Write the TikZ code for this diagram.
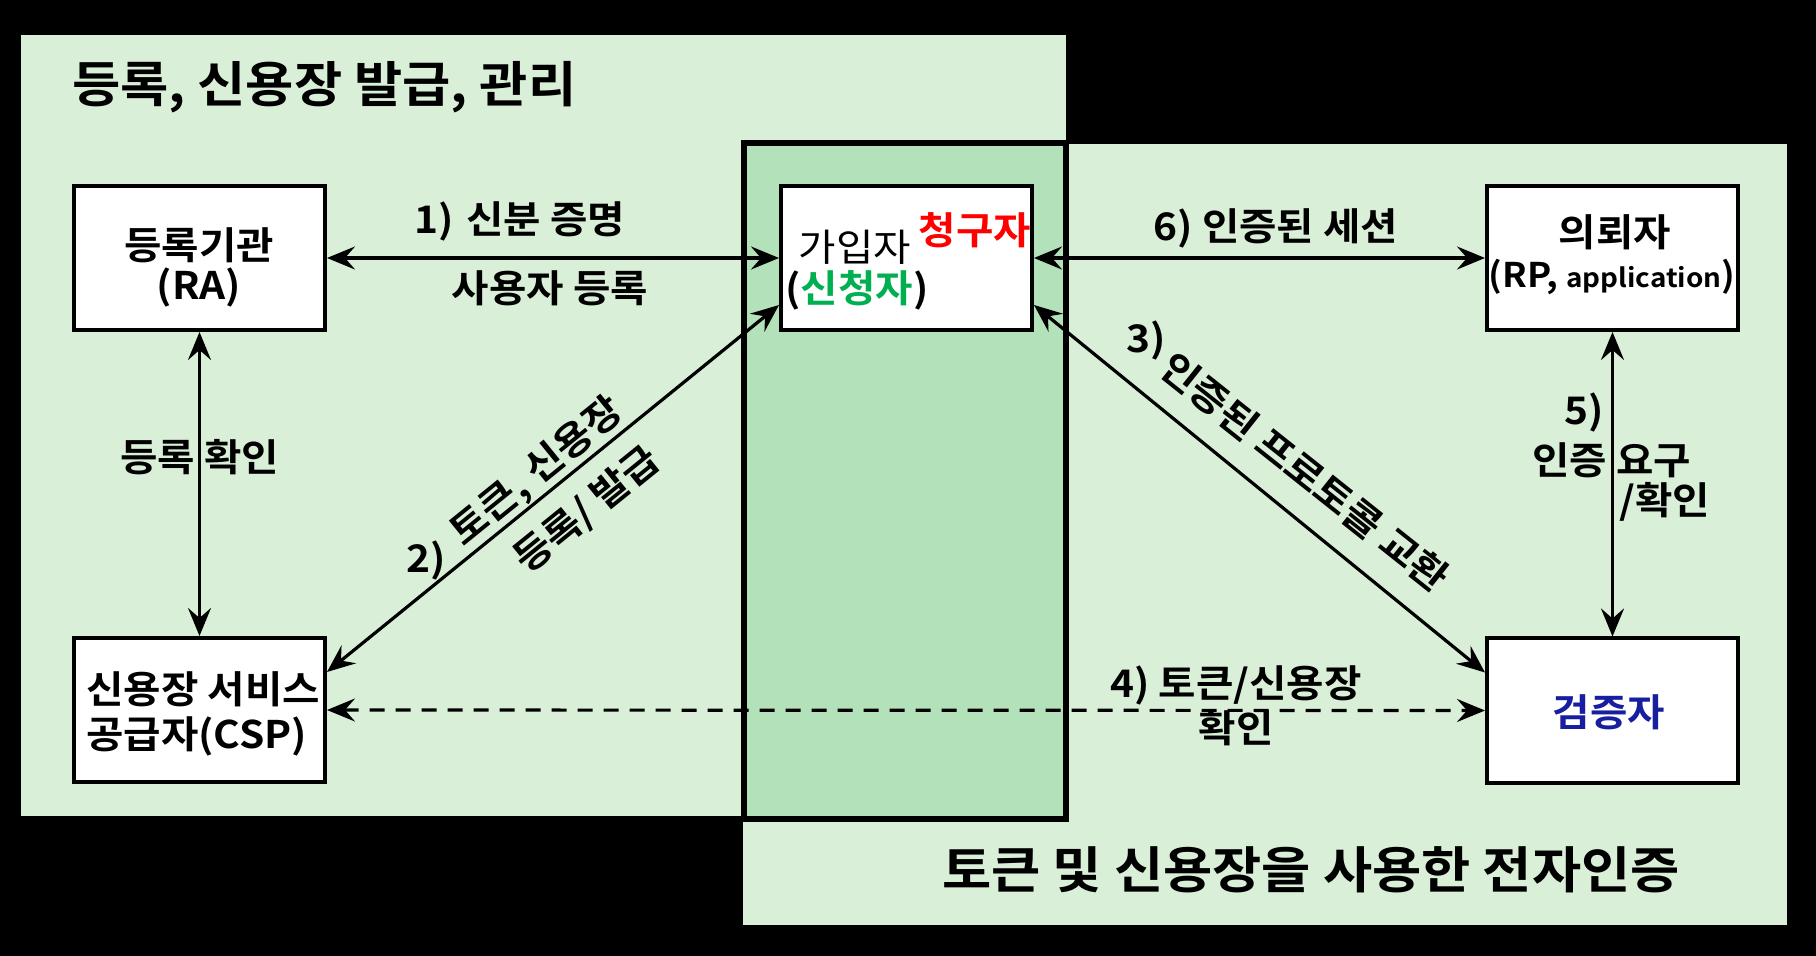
\documentclass[tikz,border=0pt]{standalone}
\usepackage{fontspec}
\setmainfont{Noto Sans CJK KR}[BoldFont={Noto Sans CJK KR Bold}, FakeStretch=1.07]
\usetikzlibrary{arrows.meta}
\definecolor{lightg}{RGB}{217,239,216}
\definecolor{midg}{RGB}{179,225,185}
\definecolor{kred}{RGB}{255,0,0}
\definecolor{kgreen}{RGB}{0,176,80}
\definecolor{kblue}{RGB}{24,30,160}
\tikzset{
  box/.style={draw=black, line width=2pt, fill=white, minimum width=125.5pt, minimum height=72pt, inner sep=0pt},
  lbl/.style={font=\fontsize{19pt}{22.5pt}\selectfont\bfseries, inner sep=0pt, text=black},
  ttl/.style={font=\fontsize{24.5pt}{30pt}\selectfont\bfseries, inner sep=0pt, text=black},
  conn/.style={line width=1.6pt, {Stealth[length=14pt,width=11.5pt,inset=5pt]}-{Stealth[length=14pt,width=11.5pt,inset=5pt]}},
  dconn/.style={conn, dash pattern=on 7.5pt off 5.5pt},
}
\begin{document}
\begin{tikzpicture}[x=0.5pt,y=-0.5pt]
\fill[black] (0,0) rectangle (1816,956);
\useasboundingbox (0,0) rectangle (1816,956);
% regions
\fill[lightg] (21,35) rectangle (1066,816);
\fill[lightg] (743,144) rectangle (1787,925);
\filldraw[fill=midg, draw=black, line width=3pt] (744,143) rectangle (1066,819);
% boxes
\node[box] (ra) at (199.5,258) {};
\node[box] (csp) at (199.5,710) {};
\node[box] (sub) at (906.5,258) {};
\node[box] (rp) at (1612.5,258) {};
\node[box] (ver) at (1612.5,710.5) {};
% box texts
\node[lbl] (raT1) at (199,245) {등록기관};
\node[lbl] (raT2) at (199,288) {(RA)};
\node[lbl, align=left, anchor=west] (cspT) at (86,714) {신용장 서비스\\공급자(CSP)};
\node[lbl, font=\fontsize{19pt}{22.5pt}\selectfont\mdseries] (subT1) at (855,247) {가입자};
\node[lbl, text=kred] (subT2) at (975,230) {청구자};
\node[lbl] (subT3) at (857,290) {(\textcolor{kgreen}{신청자})};
\node[lbl] (rpT1) at (1615,232) {의뢰자};
\node[lbl, font=\fontsize{17pt}{20pt}\selectfont\bfseries] (rpT2) at (1612,277) {(RP, {\fontsize{13pt}{16pt}\selectfont application})};
\node[lbl, text=kblue] (verT) at (1609,712) {검증자};
% titles
\node[ttl, anchor=west] (t1) at (72,87) {등록, 신용장 발급, 관리};
\node[ttl, font=\fontsize{25pt}{30pt}\selectfont\bfseries] (t2) at (1311,870) {토큰 및 신용장을 사용한 전자인증};
% connectors
\draw[conn] (ra.east) -- (sub.west);
\draw[conn] (sub.east) -- (rp.west);
\draw[conn] (ra.south) -- (csp.north);
\draw[conn] (rp.south) -- (ver.north);
\draw[conn] ([yshift=19pt]csp.east) -- ([yshift=-23.5pt]sub.west);
\draw[conn] ([yshift=-23.5pt]sub.east) -- ([yshift=19pt]ver.west);
\draw[dconn] (csp.east) -- (ver.west);
% connector labels
\node[lbl] (l1a) at (520,221) {1)\hspace{6pt}신분 증명};
\node[lbl] (l1b) at (550,288) {사용자 등록};
\node[lbl] (l6) at (1276,228) {6) 인증된 세션};
\node[lbl] (lra) at (200,457) {등록 확인};
\node[lbl] (l5a) at (1584,413) {5)};
\node[lbl] (l5b) at (1612,460) {인증 요구};
\node[lbl] (l5c) at (1665,502) {/확인};
\node[lbl, align=center] (l4) at (1236,706) {4) 토큰/신용장\\확인};
\node[lbl] (l2n) at (426,561) {2)};
\node[lbl, rotate=39] (l2a) at (537,472) {토큰, 신용장};
\node[lbl, rotate=39] (l2b) at (587,510) {등록/ 발급};
\node[lbl] (l3n) at (1146,341) {3)};
\node[lbl, rotate=-38.5] (l3a) at (1305,472) {인증된 프로토콜 교환};
\end{tikzpicture}
\end{document}
